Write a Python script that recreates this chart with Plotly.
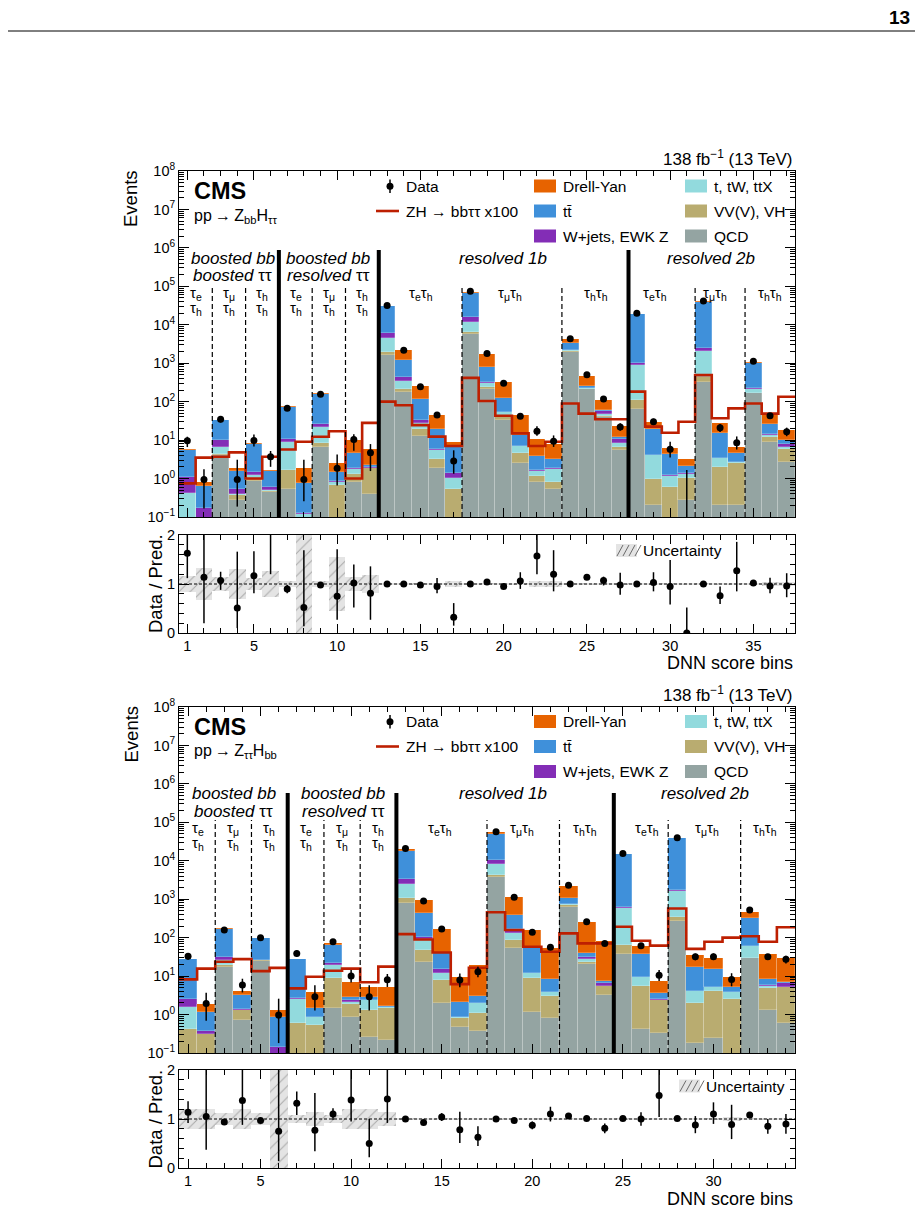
import plotly.graph_objects as go

FONT = "Liberation Sans, Arial, Helvetica, sans-serif"
W, H = 920, 1208


def px(x):
    return x / W


def py(y):
    return 1 - y / H


# ---------------- colours
C_QCD, C_VV, C_TX, C_WJ, C_TT, C_DY, C_SIG = (
    "#94a4a2", "#b9ac70", "#92dadd", "#832db6", "#3f90da", "#e76300", "#bd1f01")

PROC_NAMES = ["QCD", "VV(V), VH", "t, tW, ttX", "W+jets, EWK Z", "tt\u0304", "Drell-Yan"]
PROC_COLORS = [C_QCD, C_VV, C_TX, C_WJ, C_TT, C_DY]

# ================= TOP: pp -> Z_bb H_tautau (37 DNN score bins)
top_bins = list(range(1, 38))
top_qcd = [0.02, 0.003, 4.1, 0.27, 0.88, 0.45, 0.52, 0.005, 6.5, 0.05,
           0.83, 0.4, 1630, 174, 12.7, 1.84, 0.05, 5600, 213, 33,
           2.5, 0.83, 0.52, 2000, 209, 41, 5.5, 63, 0.2, 0.05,
           0.27, 330, 0.2, 0.2, 164, 9.1, 2.7]
top_vv = [0.02, 0.002, 0.2, 0.10, 0.07, 0.03, 1.13, 0.005, 2.0, 0.63,
          0.52, 1.44, 370, 36, 6.3, 1.36, 0.5, 1000, 32, 8,
          2.0, 0.33, 0.31, 50, 6, 2, 1.0, 47, 0.75, 0.57,
          0.78, 115, 1.8, 2.3, 6, 2.6, 3.3]
top_ttx = [0.37, 0.005, 2.4, 0.02, 0.28, 0.03, 7.45, 0.11, 13.5, 0.15,
           0.45, 0.06, 2400, 140, 9, 2.3, 0.5, 5400, 55, 12,
           2.5, 0.44, 0.97, 100, 10, 5, 1.7, 790, 3.05, 0.53,
           0.25, 1695, 1.4, 0.15, 50, 1.8, 0.7]
top_wj = [0.70, 0.157, 3.3, 0.13, 0.27, 0.11, 1.5, 0.01, 4, 0.05,
          0.05, 0.05, 1800, 80, 5, 0.3, 0.31, 4200, 30, 2,
          0.2, 0.07, 0.04, 40, 5, 8, 2.3, 90, 0.1, 0.08,
          0.06, 290, 0.1, 0.05, 10, 0.5, 1.3]
top_tt = [4.4, 0.48, 23, 1.05, 6.4, 0.98, 63.4, 0.62, 132, 0.62,
          2.65, 0.25, 23700, 820, 82, 14.2, 5.14, 49800, 480, 73,
          6.3, 2.23, 1.31, 1090, 25, 4, 1.8, 18000, 15.9, 3.07,
          0.77, 37570, 11.5, 1.8, 760, 13, 2.0]
top_dy = [0.4, 0.18, 1.0, 0.27, 0.5, 0.1, 2.0, 1.09, 8, 1.1,
          5.5, 3.7, 1100, 940, 140, 25, 2.6, 6000, 930, 190,
          31.5, 7.1, 4.75, 920, 215, 50, 10.7, 600, 10, 1.8,
          1.07, 1000, 13.5, 2.2, 110, 21, 8]
top_data = [9.6, 0.95, 35, 0.95, 9.8, 3.7, 67, 0.95, 155, 1.84,
            10.4, 4.7, 31500, 2190, 245, 45, 2.85, 74000, 1790, 300,
            42, 17, 9.4, 4300, 500, 117, 22, 20000, 30, 5.8,
            0, 41500, 21, 8.5, 1130, 43, 16.6]
top_signal = [0.75, 3.5, 3.7, 4.8, 1.0, 3.7, 5.7, 9.1, 12.2, 17,
              1.0, 28, 100, 81, 24.5, 12.3, 7.0, 415, 104, 43,
              15, 7, 9.1, 90, 49, 35, 35, 182, 22.4, 15.5,
              30, 490, 37, 67, 90, 49, 134]
top_ratio = [1.63, 1.14, 1.07, 0.51, 1.17, 2.2, 0.90, 0.52, 0.98, 0.75,
             1.02, 0.81, 1.0, 1.0, 0.98, 0.95, 0.32, 1.0, 1.04, 0.95,
             1.06, 1.57, 1.2, 1.0, 1.14, 1.07, 0.98, 1.0, 1.03, 0.95,
             0.0, 1.0, 0.76, 1.27, 1.02, 0.96, 0.96]
top_ratio_up = [0.45, 0.95, 0.18, 1.15, 0.5, 0.9, 0.08, 1.17, 0.03, 0.96,
                0.38, 0.55, 0.01, 0.01, 0.02, 0.17, 0.29, 0.01, 0.02, 0.02,
                0.18, 0.55, 0.49, 0.01, 0.02, 0.08, 0.25, 0.01, 0.21, 0.54,
                0.52, 0.01, 0.19, 0.59, 0.02, 0.17, 0.26]
top_ratio_dn = [0.51, 0.94, 0.19, 0.41, 0.36, 1.0, 0.09, 0.38, 0.03, 0.48,
                0.50, 0.54, 0.01, 0.01, 0.02, 0.14, 0.17, 0.01, 0.02, 0.02,
                0.16, 0.37, 0.35, 0.01, 0.02, 0.10, 0.20, 0.01, 0.18, 0.37,
                0.0, 0.01, 0.17, 0.42, 0.02, 0.15, 0.23]
top_unc = [0.17, 0.33, 0.14, 0.30, 0.12, 0.27, 0.07, 1.2, 0.07, 0.55,
           0.14, 0.18, 0.01, 0.01, 0.02, 0.02, 0.07, 0.01, 0.01, 0.01,
           0.03, 0.06, 0.07, 0.01, 0.01, 0.02, 0.03, 0.01, 0.02, 0.03,
           0.03, 0.01, 0.02, 0.02, 0.02, 0.04, 0.04]
top_solid = [6.5, 12.5, 27.5]
top_dashed = [2.5, 4.5, 8.5, 10.5, 17.5, 23.5, 31.5, 34.5]

# ================= BOTTOM: pp -> Z_tautau H_bb (34 DNN score bins)
bot_bins = list(range(1, 35))
bot_qcd = [0.01, 0.01, 17, 0.72, 25, 0.01, 0.01, 0.01, 1.5, 0.88,
           0.26, 0.22, 810, 23.7, 1.95, 0.48, 0.38, 3700, 52.5, 1.19,
           0.8, 630, 21, 3.2, 37.5, 0.41, 0.34, 275, 0.18, 0.25,
           0.01, 29, 1.3, 0.59]
bot_vv = [0.40, 0.30, 2.5, 0.58, 0.5, 0.005, 0.58, 0.53, 7.2, 1.02,
          1.04, 1.28, 240, 24.3, 5.95, 0.35, 0.73, 570, 34.5, 7.5,
          2.2, 70, 2, 2.3, 26.5, 5.1, 2.06, 75, 1.82, 3.75,
          2.49, 1, 3.5, 4.71]
bot_ttx = [1.19, 0.01, 6.5, 0.03, 0.5, 0.005, 2.01, 0.3, 10.9, 0.2,
           1.1, 0.05, 1430, 47, 4.3, 0.01, 0.84, 3930, 42, 3.3,
           0.9, 40, 4.5, 0.1, 536, 4.1, 0.05, 1270, 2.1, 1.2,
           1.3, 30, 0.7, 0.05]
bot_wj = [1.0, 0.06, 6, 0.03, 0.5, 0.125, 0.02, 0.01, 2.4, 0.3,
          0.05, 0.05, 940, 11, 2.8, 0.01, 0.02, 2300, 39, 0.2,
          0.05, 10, 4.5, 1.2, 40, 0.1, 0.05, 110, 0.1, 0.1,
          0.01, 2, 0.3, 1.15]
bot_tt = [25, 0.79, 132, 1.84, 73.5, 0.695, 25, 0.65, 43, 0.5,
          0.45, 0.1, 14880, 322, 24, 1.31, 1.03, 38200, 220, 42.8,
          4.25, 300, 7, 0.6, 14360, 27.8, 1.2, 36570, 13.2, 9.7,
          1.3, 256, 2.4, 0.6]
bot_dy = [0.4, 0.69, 10, 1.0, 1, 0.46, 0.4, 2.3, 6, 4.2,
          2.4, 3.6, 1900, 522, 125, 7.44, 17, 6300, 732, 103,
          46.8, 1150, 221, 74.6, 300, 24.5, 3.7, 700, 17.6, 14,
          4.5, 155, 29.3, 22.9]
bot_data = [33, 1.95, 158, 5.9, 100, 0.97, 39, 2.9, 78, 10,
            2.9, 8, 20800, 900, 168, 7.9, 13, 57000, 1120, 138,
            56, 2300, 260, 71, 15500, 62, 10.6, 39800, 32, 32,
            8.2, 525, 32, 27.5]
bot_signal = [8.2, 15.7, 23.6, 27.6, 13.5, 16.4, 4.8, 9.6, 13.8, 15.7,
              6.9, 17.6, 124, 90, 41, 6.2, 16.5, 457, 158, 58,
              43, 129, 71, 71, 193, 83, 62, 575, 51, 78,
              100, 109, 78, 186]
bot_ratio = [1.14, 1.05, 0.94, 1.38, 0.97, 0.75, 1.32, 0.77, 1.1, 1.39,
             0.5, 1.41, 1.0, 0.93, 1.04, 0.78, 0.63, 1.0, 0.97, 0.87,
             1.1, 1.06, 1.01, 0.81, 1.01, 1.0, 1.48, 1.01, 0.88, 1.1,
             0.89, 1.08, 0.85, 0.9]
bot_ratio_up = [0.22, 0.95, 0.05, 0.62, 0.04, 1.25, 0.24, 0.76, 0.12, 0.61,
                0.5, 0.59, 0.01, 0.02, 0.08, 0.37, 0.22, 0.01, 0.02, 0.08,
                0.15, 0.02, 0.02, 0.1, 0.01, 0.14, 0.52, 0.01, 0.18, 0.24,
                0.4, 0.02, 0.15, 0.2]
bot_ratio_dn = [0.22, 0.68, 0.05, 0.5, 0.04, 0.61, 0.24, 0.43, 0.12, 0.44,
                0.28, 0.49, 0.01, 0.02, 0.08, 0.27, 0.18, 0.01, 0.02, 0.08,
                0.15, 0.02, 0.02, 0.1, 0.01, 0.14, 0.44, 0.01, 0.17, 0.2,
                0.3, 0.02, 0.15, 0.2]
bot_unc = [0.21, 0.2, 0.13, 0.2, 0.13, 1.2, 0.09, 0.14, 0.09, 0.2,
           0.2, 0.15, 0.01, 0.01, 0.02, 0.02, 0.02, 0.01, 0.01, 0.01,
           0.02, 0.01, 0.01, 0.02, 0.01, 0.02, 0.02, 0.01, 0.02, 0.02,
           0.05, 0.01, 0.02, 0.02]
bot_solid = [6.5, 12.5, 24.5]
bot_dashed = [2.5, 4.5, 8.5, 10.5, 17.5, 21.5, 27.5, 31.5]

# ---------------- text labels
TAU = "\u03c4"
top_process = "pp\u2009\u2192\u2009Z<sub>bb</sub>H<sub>" + TAU + TAU + "</sub>"
bot_process = "pp\u2009\u2192\u2009Z<sub>" + TAU + TAU + "</sub>H<sub>bb</sub>"
lumi_text = "138 fb<sup>\u22121</sup> (13 TeV)"
sig_label = "ZH \u2192 bb" + TAU + TAU + " x100"

fig = go.Figure()
shapes = []
annos = []

XDOM = [px(179), px(795)]
panels = [
    dict(bins=top_bins, procs=[top_qcd, top_vv, top_ttx, top_wj, top_tt, top_dy],
         data=top_data, sig=top_signal, ratio=top_ratio, rup=top_ratio_up,
         rdn=top_ratio_dn, unc=top_unc, solid=top_solid, dashed=top_dashed,
         xm="x", ym="y", xr="x2", yr="y2", ytop=171, dy=0,
         solid_top=250, dashed_top=285,
         cat=[(233, ["<i>boosted bb</i>", "<i>boosted</i> " + TAU + TAU]),
              (328, ["<i>boosted bb</i>", "<i>resolved</i> " + TAU + TAU]),
              (503, ["<i>resolved 1b</i>"]), (711, ["<i>resolved 2b</i>"])],
         sub2=[(196, "e"), (229, "\u03bc"), (262, "h"), (296, "e"), (329, "\u03bc"), (362, "h")],
         sub1=[(421, "e"), (510, "\u03bc"), (596, "h"), (655, "e"), (715, "\u03bc"), (770, "h")],
         process=top_process, unc_leg=616),
    dict(bins=bot_bins, procs=[bot_qcd, bot_vv, bot_ttx, bot_wj, bot_tt, bot_dy],
         data=bot_data, sig=bot_signal, ratio=bot_ratio, rup=bot_ratio_up,
         rdn=bot_ratio_dn, unc=bot_unc, solid=bot_solid, dashed=bot_dashed,
         xm="x3", ym="y3", xr="x4", yr="y4", ytop=707, dy=535.5,
         solid_top=793, dashed_top=820,
         cat=[(234, ["<i>boosted bb</i>", "<i>boosted</i> " + TAU + TAU]),
              (343, ["<i>boosted bb</i>", "<i>resolved</i> " + TAU + TAU]),
              (503, ["<i>resolved 1b</i>"]), (705, ["<i>resolved 2b</i>"])],
         sub2=[(198, "e"), (233, "\u03bc"), (269, "h"), (306, "e"), (342, "\u03bc"), (378, "h")],
         sub1=[(440, "e"), (522, "\u03bc"), (585, "h"), (647, "e"), (707, "\u03bc"), (765, "h")],
         process=bot_process, unc_leg=679),
]

for P in panels:
    bins = P["bins"]
    n = len(bins)
    pred = [sum(v[i] for v in P["procs"]) for i in range(n)]
    # stacked backgrounds
    for name, col, vals in zip(PROC_NAMES, PROC_COLORS, P["procs"]):
        fig.add_trace(go.Bar(x=bins, y=vals, width=1.0, name=name,
                             marker=dict(color=col, line=dict(width=0.6, color="rgba(255,255,255,0.35)")),
                             xaxis=P["xm"], yaxis=P["ym"], showlegend=False))
    # signal step line
    edges = [b - 0.5 for b in bins] + [bins[-1] + 0.5]
    fig.add_trace(go.Scatter(x=edges, y=P["sig"] + [P["sig"][-1]], mode="lines",
                             line=dict(color=C_SIG, width=2.6, shape="hv"),
                             xaxis=P["xm"], yaxis=P["ym"], showlegend=False))
    # data points with errors (relative errors taken from ratio panel)
    dx, dyv, eu, ed = [], [], [], []
    for i in range(n):
        d, r = P["data"][i], P["ratio"][i]
        if d > 0 and r > 0:
            dx.append(bins[i]); dyv.append(d)
            eu.append(d * P["rup"][i] / r)
            ed.append(min(d * P["rdn"][i] / r, 0.999 * d))
        else:
            fig.add_trace(go.Scatter(x=[bins[i], bins[i]], y=[0.05, pred[i] * (r + P["rup"][i])],
                                     mode="lines", line=dict(color="black", width=1.5),
                                     xaxis=P["xm"], yaxis=P["ym"], showlegend=False))
    fig.add_trace(go.Scatter(x=dx, y=dyv, mode="markers",
                             marker=dict(color="black", size=7),
                             error_y=dict(type="data", array=eu, arrayminus=ed,
                                          color="black", thickness=1.5, width=0),
                             xaxis=P["xm"], yaxis=P["ym"], showlegend=False))
    # ratio uncertainty band
    fig.add_trace(go.Bar(x=bins, y=[2 * u for u in P["unc"]], base=[1 - u for u in P["unc"]],
                         width=1.0,
                         marker=dict(color="#e4e4e4", line=dict(width=0),
                                     pattern=dict(shape="/", fgcolor="#6a6a6a", size=8,
                                                  solidity=0.12, fillmode="overlay")),
                         xaxis=P["xr"], yaxis=P["yr"], showlegend=False))
    fig.add_trace(go.Scatter(x=bins, y=P["ratio"], mode="markers",
                             marker=dict(color="black", size=7),
                             error_y=dict(type="data", array=P["rup"], arrayminus=P["rdn"],
                                          color="black", thickness=1.5, width=0),
                             xaxis=P["xr"], yaxis=P["yr"], showlegend=False))

    # dashed line at 1 in ratio
    shapes.append(dict(type="line", xref=P["xr"] + " domain", yref=P["yr"], x0=0, x1=1, y0=1, y1=1,
                       line=dict(color="black", width=1, dash="3px,2px"), layer="above"))
    # category separators
    ybot = P["ytop"] + 346
    for xe in P["solid"]:
        shapes.append(dict(type="line", xref=P["xm"], yref="paper", x0=xe, x1=xe,
                           y0=py(ybot), y1=py(P["solid_top"]),
                           line=dict(color="black", width=4)))
    for xe in P["dashed"]:
        shapes.append(dict(type="line", xref=P["xm"], yref="paper", x0=xe, x1=xe,
                           y0=py(ybot), y1=py(P["dashed_top"]),
                           line=dict(color="black", width=1.2, dash="5px,3px")))

    d = P["dy"]
    # lumi
    annos.append(dict(text=lumi_text, x=px(795), y=py(158 + d), xanchor="right", yanchor="middle",
                      font=dict(size=17)))
    annos.append(dict(text="<b>CMS</b>", x=px(192), y=py(191 + d), xanchor="left", yanchor="middle",
                      font=dict(size=23.5)))
    annos.append(dict(text=P["process"], x=px(192), y=py(216 + d), xanchor="left", yanchor="middle",
                      font=dict(size=16)))
    # legend: Data
    shapes.append(dict(type="line", xref="paper", yref="paper", x0=px(390), x1=px(390),
                       y0=py(179.5 + d), y1=py(193 + d), line=dict(color="black", width=1.5)))
    shapes.append(dict(type="circle", xref="paper", yref="paper", x0=px(386.5), x1=px(393.5),
                       y0=py(182.8 + d), y1=py(189.8 + d), fillcolor="black", line=dict(width=0)))
    annos.append(dict(text="Data", x=px(404), y=py(186 + d), xanchor="left", yanchor="middle",
                      font=dict(size=15.5)))
    shapes.append(dict(type="line", xref="paper", yref="paper", x0=px(376), x1=px(399),
                       y0=py(211 + d), y1=py(211 + d), line=dict(color=C_SIG, width=2.6)))
    annos.append(dict(text=sig_label, x=px(404), y=py(211 + d), xanchor="left", yanchor="middle",
                      font=dict(size=15.5)))
    leg_items = [(534, 186, C_DY, "Drell-Yan"), (534, 211, C_TT, "tt\u0304"),
                 (534, 236, C_WJ, "W+jets, EWK Z"), (685, 186, C_TX, "t, tW, ttX"),
                 (685, 211, C_VV, "VV(V), VH"), (685, 236, C_QCD, "QCD")]
    for lx, ly, col, txt in leg_items:
        shapes.append(dict(type="rect", xref="paper", yref="paper", x0=px(lx), x1=px(lx + 22),
                           y0=py(ly + 6.5 + d), y1=py(ly - 6.5 + d), fillcolor=col, line=dict(width=0)))
        annos.append(dict(text=txt, x=px(lx + 27), y=py(ly + d), xanchor="left", yanchor="middle",
                          font=dict(size=15.5)))
    # category titles
    for cx, lines in P["cat"]:
        for k, t in enumerate(lines):
            annos.append(dict(text=t, x=px(cx), y=py(258 + 17.5 * k + d),
                              xanchor="center", yanchor="middle", font=dict(size=17)))
    for cx, s in P["sub2"]:
        annos.append(dict(text=TAU + "<sub>" + s + "</sub>", x=px(cx), y=py(293 + d),
                          xanchor="center", yanchor="middle", font=dict(size=15)))
        annos.append(dict(text=TAU + "<sub>h</sub>", x=px(cx), y=py(308 + d),
                          xanchor="center", yanchor="middle", font=dict(size=15)))
    for cx, s in P["sub1"]:
        annos.append(dict(text=TAU + "<sub>" + s + "</sub>" + TAU + "<sub>h</sub>", x=px(cx), y=py(293 + d),
                          xanchor="center", yanchor="middle", font=dict(size=15)))
    # axis titles
    annos.append(dict(text="Events", x=px(131), y=py(199 + d), textangle=-90, xanchor="center",
                      yanchor="middle", font=dict(size=18.5)))
    annos.append(dict(text="Data / Pred.", x=px(155), y=py(584 + d), textangle=-90, xanchor="center",
                      yanchor="middle", font=dict(size=18.5)))
    annos.append(dict(text="DNN score bins", x=px(795), y=py(663 + d), xanchor="right",
                      yanchor="middle", font=dict(size=18)))
    # uncertainty legend
    ux = P["unc_leg"]
    shapes.append(dict(type="rect", xref="paper", yref="paper", x0=px(ux), x1=px(ux + 21),
                       y0=py(557 + d), y1=py(544 + d), fillcolor="#e4e4e4", line=dict(width=0)))
    for k in range(4):
        x0 = ux + 1 + 6 * k
        shapes.append(dict(type="line", xref="paper", yref="paper", x0=px(x0), x1=px(x0 + 6),
                           y0=py(556 + d), y1=py(545 + d), line=dict(color="#6a6a6a", width=1)))
    annos.append(dict(text="Uncertainty", x=px(ux + 25), y=py(550.5 + d), xanchor="left",
                      yanchor="middle", font=dict(size=15.5)))

# page header
annos.append(dict(text="<b>13</b>", x=px(912), y=py(17), xanchor="right", yanchor="middle",
                  font=dict(size=19)))
shapes.append(dict(type="line", xref="paper", yref="paper", x0=px(8), x1=px(915),
                   y0=py(31), y1=py(31), line=dict(color="black", width=1)))

for a in annos:
    a.update(xref="paper", yref="paper", showarrow=False)

# axes
log_vals = [10.0 ** k for k in range(-1, 9)]
log_text = ["10<sup>" + ("\u22121" if k < 0 else str(k)) + "</sup>" for k in range(-1, 9)]
log_minor = [m * 10.0 ** k for k in range(-1, 8) for m in range(2, 10)]

common = dict(showline=True, linecolor="black", linewidth=1, mirror="allticks", ticks="inside",
              tickcolor="black", showgrid=False, zeroline=False, automargin=False,
              tickfont=dict(size=14.5, color="black"))


def xaxis(nb, anchor, labels):
    return dict(domain=XDOM, range=[0.5, nb + 0.5], anchor=anchor, tickmode="array",
                tickvals=[1] + list(range(5, nb + 1, 5)), ticklen=9, showticklabels=labels,
                minor=dict(ticks="inside", ticklen=5, dtick=1, tick0=0, tickcolor="black"),
                **common)


def ylog(dom, anchor):
    return dict(domain=dom, type="log", range=[-1, 8], anchor=anchor, tickmode="array",
                tickvals=log_vals, ticktext=log_text, ticklen=10,
                minor=dict(ticks="inside", ticklen=5, tickvals=log_minor, tickcolor="black"),
                **common)


def yratio(dom, anchor):
    return dict(domain=dom, range=[0, 2], anchor=anchor, tickmode="array", tickvals=[0, 1, 2],
                ticklen=10, minor=dict(ticks="inside", ticklen=5, dtick=0.2, tick0=0, tickcolor="black"),
                **common)


fig.update_layout(
    template="none",
    width=W, height=H, autosize=False,
    margin=dict(l=0, r=0, t=0, b=0, pad=0),
    paper_bgcolor="white", plot_bgcolor="white",
    font=dict(family=FONT, color="black"),
    barmode="stack", bargap=0,
    showlegend=False,
    xaxis=xaxis(37, "y", False),
    yaxis=ylog([py(517), py(171)], "x"),
    xaxis2=xaxis(37, "y2", True),
    yaxis2=yratio([py(633), py(535)], "x2"),
    xaxis3=xaxis(34, "y3", False),
    yaxis3=ylog([py(1053), py(707)], "x3"),
    xaxis4=xaxis(34, "y4", True),
    yaxis4=yratio([py(1168), py(1070)], "x4"),
    shapes=shapes,
    annotations=annos,
)

fig.write_html("out.html",
               post_script="document.documentElement.style.margin='0';document.body.style.margin='0';")
